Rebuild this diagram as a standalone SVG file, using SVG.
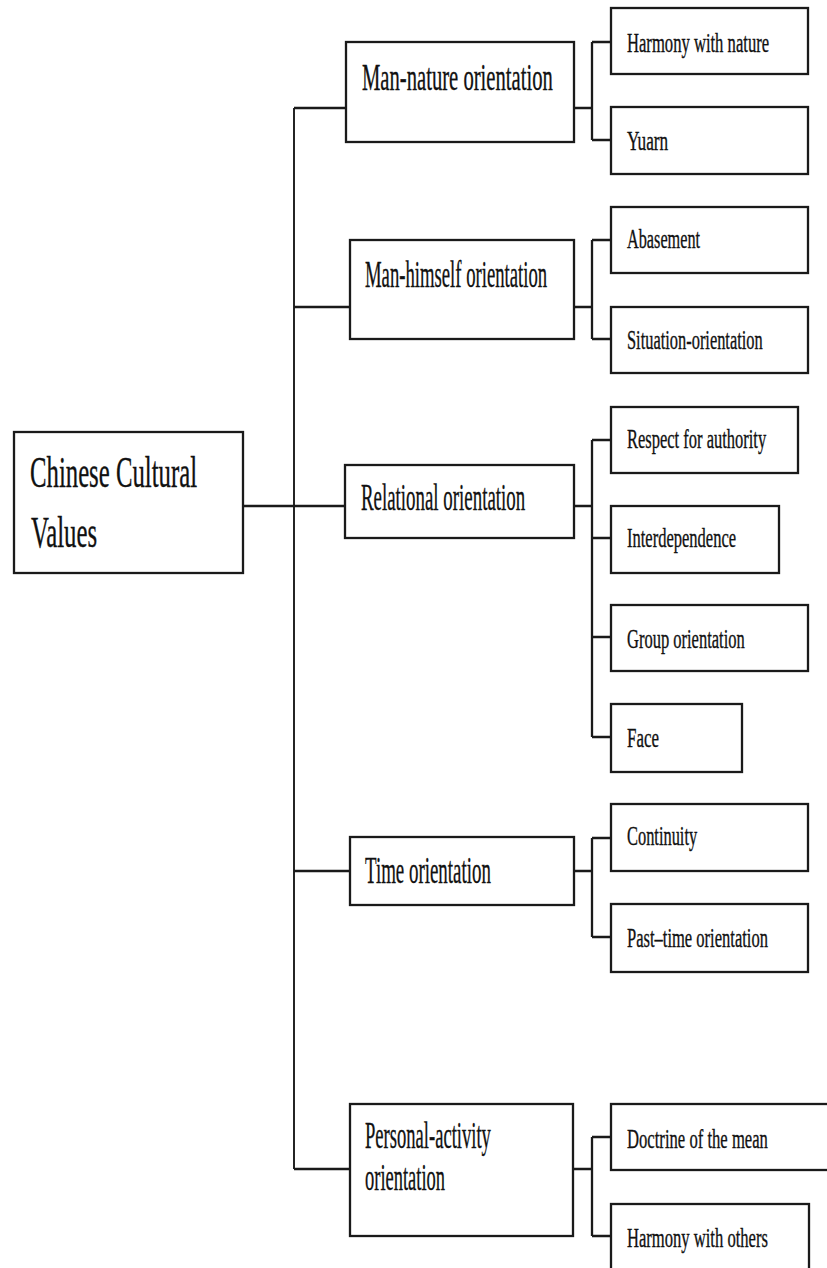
<svg xmlns="http://www.w3.org/2000/svg" width="827" height="1268" viewBox="0 0 827 1268">
<style>
.box{fill:#fff;stroke:#1a1a1a;stroke-width:2.3}
.ln{fill:none;stroke:#1a1a1a;stroke-width:2.3}
.trunk{fill:none;stroke:#1a1a1a;stroke-width:1.9}
text{font-family:"Liberation Serif","Times New Roman",serif;fill:#111;stroke:#111;stroke-width:0.35}
.t0{font-size:44px}
.t1{font-size:37px}
.t2{font-size:27px}
</style>
<rect width="827" height="1268" fill="#fff"/>
<g id="connectors">
<path class="trunk" d="M294,108 V1169"/>
<path class="ln" d="M243,506 H345"/>
<path class="ln" d="M294,108 H346"/>
<path class="ln" d="M294,307 H350"/>
<path class="ln" d="M294,871 H350"/>
<path class="ln" d="M294,1169 H350"/>
<path class="ln" d="M574,108 H592 M592,42 V140 M592,42 H611 M592,140 H611"/>
<path class="ln" d="M574,307 H592 M592,240 V339 M592,240 H611 M592,339 H611"/>
<path class="ln" d="M574,506 H592 M592,440 V737 M592,440 H611 M592,538 H611 M592,637 H611 M592,737 H611"/>
<path class="ln" d="M574,871 H592 M592,838 V937 M592,838 H611 M592,937 H611"/>
<path class="ln" d="M573,1169 H592 M592,1137 V1236 M592,1137 H611 M592,1236 H611"/>
</g>
<g id="root">
<rect class="box" x="14" y="432" width="229" height="141"/>
<text class="t0" transform="matrix(0.58,0,0,1,30,487)" textLength="288" lengthAdjust="spacingAndGlyphs">Chinese Cultural</text>
<text class="t0" transform="matrix(0.58,0,0,1,31,547)" textLength="114" lengthAdjust="spacingAndGlyphs">Values</text>
</g>
<g id="man-nature">
<rect class="box" x="346" y="42" width="228" height="100"/>
<text class="t1" transform="matrix(0.58,0,0,1,362,90)" textLength="329" lengthAdjust="spacingAndGlyphs">Man-nature orientation</text>
</g>
<g id="harmony-nature">
<rect class="box" x="611" y="8" width="197" height="66"/>
<text class="t2" transform="matrix(0.58,0,0,1,627,52)" textLength="245" lengthAdjust="spacingAndGlyphs">Harmony with nature</text>
</g>
<g id="yuarn">
<rect class="box" x="611" y="107" width="197" height="67"/>
<text class="t2" transform="matrix(0.58,0,0,1,627,150)" textLength="71" lengthAdjust="spacingAndGlyphs">Yuarn</text>
</g>
<g id="man-himself">
<rect class="box" x="350" y="240" width="224" height="99"/>
<text class="t1" transform="matrix(0.58,0,0,1,365,287)" textLength="314" lengthAdjust="spacingAndGlyphs">Man-himself orientation</text>
</g>
<g id="abasement">
<rect class="box" x="611" y="207" width="197" height="66"/>
<text class="t2" transform="matrix(0.58,0,0,1,627,248)" textLength="126" lengthAdjust="spacingAndGlyphs">Abasement</text>
</g>
<g id="situation">
<rect class="box" x="611" y="307" width="197" height="66"/>
<text class="t2" transform="matrix(0.58,0,0,1,627,349)" textLength="234" lengthAdjust="spacingAndGlyphs">Situation-orientation</text>
</g>
<g id="relational">
<rect class="box" x="345" y="465" width="229" height="73"/>
<text class="t1" transform="matrix(0.58,0,0,1,361,510)" textLength="283" lengthAdjust="spacingAndGlyphs">Relational orientation</text>
</g>
<g id="respect">
<rect class="box" x="611" y="407" width="187" height="66"/>
<text class="t2" transform="matrix(0.58,0,0,1,627,448)" textLength="240" lengthAdjust="spacingAndGlyphs">Respect for authority</text>
</g>
<g id="interdependence">
<rect class="box" x="611" y="506" width="168" height="67"/>
<text class="t2" transform="matrix(0.58,0,0,1,627,547)" textLength="188" lengthAdjust="spacingAndGlyphs">Interdependence</text>
</g>
<g id="group">
<rect class="box" x="611" y="605" width="197" height="66"/>
<text class="t2" transform="matrix(0.58,0,0,1,627,648)" textLength="203" lengthAdjust="spacingAndGlyphs">Group orientation</text>
</g>
<g id="face">
<rect class="box" x="611" y="704" width="131" height="68"/>
<text class="t2" transform="matrix(0.58,0,0,1,627,747)" textLength="55" lengthAdjust="spacingAndGlyphs">Face</text>
</g>
<g id="time">
<rect class="box" x="350" y="837" width="224" height="68"/>
<text class="t1" transform="matrix(0.58,0,0,1,365,883)" textLength="217" lengthAdjust="spacingAndGlyphs">Time orientation</text>
</g>
<g id="continuity">
<rect class="box" x="611" y="804" width="197" height="67"/>
<text class="t2" transform="matrix(0.58,0,0,1,627,845)" textLength="121" lengthAdjust="spacingAndGlyphs">Continuity</text>
</g>
<g id="past-time">
<rect class="box" x="611" y="904" width="197" height="68"/>
<text class="t2" transform="matrix(0.58,0,0,1,627,947)" textLength="243" lengthAdjust="spacingAndGlyphs">Past–time orientation</text>
</g>
<g id="personal-activity">
<rect class="box" x="350" y="1104" width="223" height="132"/>
<text class="t1" transform="matrix(0.58,0,0,1,365,1148)" textLength="217" lengthAdjust="spacingAndGlyphs">Personal-activity</text>
<text class="t1" transform="matrix(0.58,0,0,1,365,1190)" textLength="138" lengthAdjust="spacingAndGlyphs">orientation</text>
</g>
<g id="doctrine">
<rect class="box" x="611" y="1104" width="222" height="66"/>
<text class="t2" transform="matrix(0.58,0,0,1,627,1148)" textLength="243" lengthAdjust="spacingAndGlyphs">Doctrine of the mean</text>
</g>
<g id="harmony-others">
<rect class="box" x="611" y="1204" width="198" height="74"/>
<text class="t2" transform="matrix(0.58,0,0,1,627,1247)" textLength="243" lengthAdjust="spacingAndGlyphs">Harmony with others</text>
</g>
</svg>
